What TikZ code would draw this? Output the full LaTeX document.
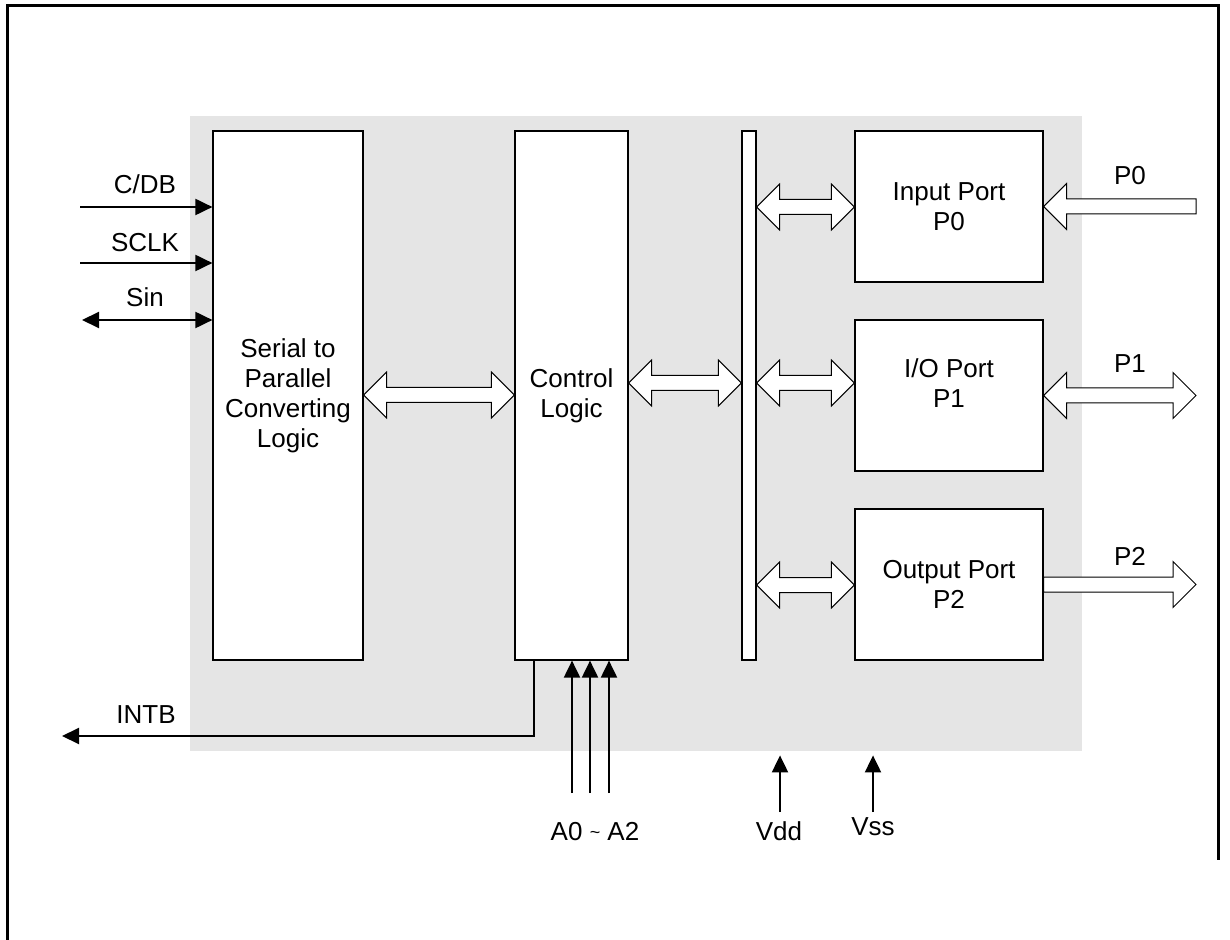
\documentclass[tikz,border=0pt]{standalone}
\usepackage{fontspec}
\setmainfont{Liberation Sans}
\usetikzlibrary{arrows.meta,calc}
\definecolor{bgc}{HTML}{E5E5E5}
\tikzset{
 box/.style={draw=black, line width=0.6pt, fill=white, inner sep=0pt, align=center, font=\fontsize{13}{15}\selectfont},
 lbl/.style={font=\fontsize{13}{15}\selectfont, inner sep=0pt, anchor=base},
 arr/.style={line width=1pt, -{Triangle[length=8.5pt,width=8pt]}},
 darr/.style={line width=1pt, {Triangle[length=8.5pt,width=8pt]}-{Triangle[length=8.5pt,width=8pt]}},
 fat/.style={draw=black, fill=white, line width=0.5pt, line join=miter},
 frame/.style={line width=1.5pt},
}
\newcommand{\fatdbl}[2]{\draw[fat] let \p1=(#1),\p2=(#2) in (\x1,\y1) -- (\x1+11.5pt,\y1+11.5pt) -- (\x1+11.5pt,\y1+3.75pt) -- (\x2-11.5pt,\y1+3.75pt) -- (\x2-11.5pt,\y1+11.5pt) -- (\x2,\y1) -- (\x2-11.5pt,\y1-11.5pt) -- (\x2-11.5pt,\y1-3.75pt) -- (\x1+11.5pt,\y1-3.75pt) -- (\x1+11.5pt,\y1-11.5pt) -- cycle;}
\newcommand{\fatleft}[2]{\draw[fat] let \p1=(#1),\p2=(#2) in (\x1,\y1) -- (\x1+11.5pt,\y1+11.5pt) -- (\x1+11.5pt,\y1+3.75pt) -- (\x2,\y1+3.75pt) -- (\x2,\y1-3.75pt) -- (\x1+11.5pt,\y1-3.75pt) -- (\x1+11.5pt,\y1-11.5pt) -- cycle;}
\newcommand{\fatright}[2]{\draw[fat] let \p1=(#1),\p2=(#2) in (\x1,\y1+3.75pt) -- (\x2-11.5pt,\y1+3.75pt) -- (\x2-11.5pt,\y1+11.5pt) -- (\x2,\y1) -- (\x2-11.5pt,\y1-11.5pt) -- (\x2-11.5pt,\y1-3.75pt) -- (\x1,\y1-3.75pt) -- cycle;}
\begin{document}
\begin{tikzpicture}[x=0.5pt,y=-0.5pt]
\useasboundingbox (0,0) rectangle (1230,940);
% frame
\draw[frame] (7,940) -- (7,6) -- (1218,6) -- (1218,860);
% background
\node[fill=bgc, inner sep=0pt, minimum width=446pt, minimum height=317.5pt] (bg) at (636,433.5) {};
% blocks
\node[box, minimum width=75pt, minimum height=264.5pt] (ser) at (288,395.5) {Serial to\\Parallel\\Converting\\Logic};
\node[box, minimum width=56.5pt, minimum height=264.5pt] (ctl) at (571.5,395.5) {Control\\Logic};
\node[box, minimum width=7pt, minimum height=264.5pt] (bus) at (749,395.5) {};
\node[box, minimum width=94pt, minimum height=75.5pt] (inp) at (949,206.5) {Input Port\\P0};
\node[box, minimum width=94pt, minimum height=75.5pt] (iop) at (949,395.5) {};
\node[lbl, anchor=center, align=center] (iot) at (949,383) {I/O Port\\P1};
\node[box, minimum width=94pt, minimum height=75.5pt] (outp) at (949,584.5) {Output Port\\P2};
% row coordinates
\coordinate (r1) at (0,395);
\coordinate (r2) at (0,383);
\coordinate (r3) at (0,207);
\coordinate (r4) at (0,585);
\coordinate (p0end) at (1196,206.5);
\coordinate (p1end) at (1196,395.5);
\coordinate (p2end) at (1196,584.5);
% fat arrows
\fatdbl{ser.east |- r1}{ctl.west |- r1}
\fatdbl{ctl.east |- r2}{bus.west |- r2}
\fatdbl{bus.east |- r3}{inp.west |- r3}
\fatdbl{bus.east |- r2}{iop.west |- r2}
\fatdbl{bus.east |- r4}{outp.west |- r4}
\fatleft{inp.east |- p0end}{p0end}
\fatdbl{iop.east |- p1end}{p1end}
\fatright{outp.east |- p2end}{p2end}
\node[lbl] (lp0) at (1130,185) {P0};
\node[lbl] (lp1) at (1130,373) {P1};
\node[lbl] (lp2) at (1130,565) {P2};
% left inputs
\coordinate (cdb) at (80,207);
\coordinate (sclk) at (80,263);
\coordinate (sin) at (82,320);
\draw[arr] (cdb) -- (cdb -| ser.west);
\draw[arr] (sclk) -- (sclk -| ser.west);
\draw[darr] (sin) -- (sin -| ser.west);
\node[lbl] (lcdb) at (145,194) {C/DB};
\node[lbl] (lsclk) at (145,252) {SCLK};
\node[lbl] (lsin) at (145,307) {Sin};
% INTB
\coordinate (intbsrc) at ($(ctl.south west)+(20,0)$);
\coordinate (intb) at (62,736);
\draw[arr, line join=miter] (intbsrc) |- (intb);
\node[lbl] (lintb) at (146,723) {INTB};
% address
\coordinate (a0) at (572,793);
\coordinate (a1) at (590,793);
\coordinate (a2) at (609,793);
\draw[arr] (a0) -- (a0 |- ctl.south);
\draw[arr] (a1) -- (a1 |- ctl.south);
\draw[arr] (a2) -- (a2 |- ctl.south);
\node[lbl] (la) at (595,840) {A0 \raisebox{1pt}{\small\textasciitilde} A2};
% power
\coordinate (vdd) at (780,812);
\coordinate (vss) at (873,812);
\draw[arr] (vdd) -- ($(vdd |- bg.south)+(0,4)$);
\draw[arr] (vss) -- ($(vss |- bg.south)+(0,4)$);
\node[lbl] (lvdd) at (779,840) {Vdd};
\node[lbl] (lvss) at (873,835) {Vss};
\end{tikzpicture}
\end{document}
